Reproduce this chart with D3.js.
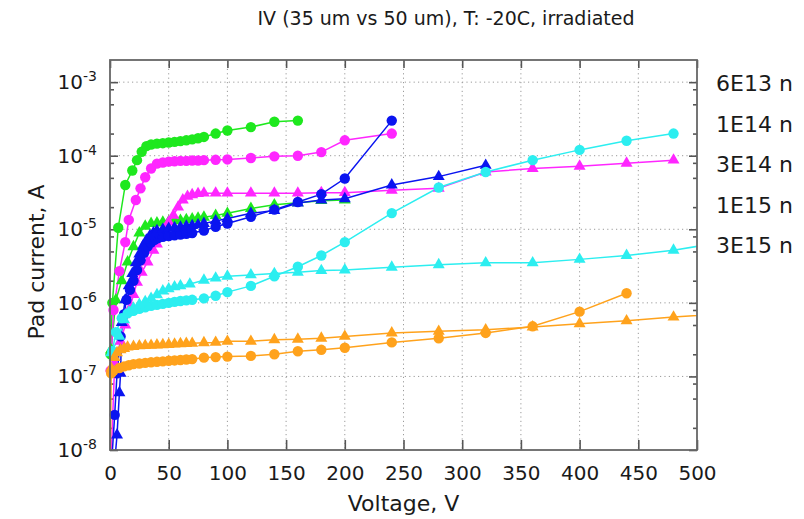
<!DOCTYPE html>
<html>
<head>
<meta charset="utf-8">
<script src="https://cdn.jsdelivr.net/npm/d3@7"></script>
<style>
  body { margin: 0; background: #fff; }
  svg { display: block; }
  text { font-family: "DejaVu Sans", sans-serif; fill: #1a1a1a; }
</style>
</head>
<body>
<svg id="chart" width="804" height="519"></svg>
<script>
// Axis ticks
const voltageTicks = [0, 50, 100, 150, 200, 250, 300, 350, 400, 450, 500];
const currentExponents = [-8, -7, -6, -5, -4, -3];
const fluenceLabels = ["6E13 n", "1E14 n", "3E14 n", "1E15 n", "3E15 n"];

// Measured IV curves: [voltage V, pad current A]; "35" = 35 um (circles), "50" = 50 um (triangles)
const fl6e13_35 = [[0.5,2.0e-7],[2,1.0e-6],[7,1.05e-5],[13,4.0e-5],[19,6.3e-5],[23,8.7e-5],[27,1.13e-4],[31,1.35e-4],[35,1.42e-4],[40,1.46e-4],[45,1.48e-4],[50,1.51e-4],[55,1.54e-4],[60,1.58e-4],[65,1.62e-4],[70,1.67e-4],[75,1.73e-4],[80,1.8e-4],[90,2.0e-4],[100,2.2e-4],[120,2.45e-4],[140,2.9e-4],[160,3.0e-4]];
const fl6e13_50 = [[1,2.3e-7],[5,1.1e-6],[10,2.0e-6],[15,3.6e-6],[20,5.8e-6],[25,8.9e-6],[30,1.1e-5],[35,1.2e-5],[40,1.22e-5],[45,1.25e-5],[50,1.27e-5],[55,1.3e-5],[60,1.32e-5],[65,1.35e-5],[70,1.38e-5],[75,1.42e-5],[80,1.46e-5],[90,1.54e-5],[100,1.65e-5],[120,1.92e-5],[140,2.15e-5],[160,2.3e-5],[180,2.45e-5],[200,2.5e-5]];
const fl1e14_35 = [[0.5,1.2e-7],[3,8e-7],[8,2.7e-6],[13,6.7e-6],[16,1.34e-5],[22,2.5e-5],[26,3.6e-5],[30,5.1e-5],[35,6.7e-5],[40,7.8e-5],[45,8.1e-5],[50,8.3e-5],[55,8.4e-5],[60,8.5e-5],[65,8.5e-5],[70,8.6e-5],[75,8.6e-5],[80,8.7e-5],[90,8.8e-5],[100,8.9e-5],[120,9.3e-5],[140,9.8e-5],[160,1.0e-4],[180,1.12e-4],[200,1.62e-4],[240,2.0e-4]];
const fl1e14_50 = [[0,3e-9],[4,1.5e-7],[9,3e-7],[13,5e-7],[17,8.5e-7],[20,1.3e-6],[23,1.9e-6],[27,2.6e-6],[32,3.6e-6],[37,5.2e-6],[40,6.3e-6],[43,7.9e-6],[46,1.0e-5],[50,1.25e-5],[54,1.55e-5],[58,2.0e-5],[62,2.5e-5],[66,2.8e-5],[70,2.95e-5],[75,3.05e-5],[80,3.1e-5],[90,3.1e-5],[100,3.1e-5],[120,3.1e-5],[140,3.1e-5],[160,3.1e-5],[180,3.15e-5],[200,3.15e-5],[240,3.4e-5],[280,3.6e-5],[320,6.0e-5],[360,6.7e-5],[400,7.2e-5],[440,7.9e-5],[480,8.7e-5]];
const fl3e14_35 = [[0,3e-9],[4,3e-8],[6,1.1e-7],[9,3.5e-7],[12,7e-7],[14,1.1e-6],[17,1.5e-6],[20,2.0e-6],[23,2.8e-6],[26,3.8e-6],[29,4.8e-6],[32,5.8e-6],[35,6.6e-6],[38,7.2e-6],[41,7.6e-6],[45,7.9e-6],[50,8.1e-6],[55,8.3e-6],[60,8.5e-6],[65,8.7e-6],[70,8.9e-6],[80,9.6e-6],[90,1.08e-5],[100,1.2e-5],[120,1.48e-5],[140,1.85e-5],[160,2.35e-5],[180,3.0e-5],[200,4.9e-5],[240,3.0e-4]];
const fl3e14_50 = [[2,3e-9],[6,1.6e-8],[8,6e-8],[9,1.1e-7],[10,5.4e-7],[13,1.1e-6],[16,1.7e-6],[19,2.5e-6],[22,3.5e-6],[25,4.6e-6],[28,5.9e-6],[31,7.1e-6],[34,8.2e-6],[37,9.0e-6],[40,9.6e-6],[45,1.0e-5],[50,1.03e-5],[55,1.05e-5],[60,1.07e-5],[65,1.1e-5],[70,1.12e-5],[75,1.15e-5],[80,1.2e-5],[90,1.3e-5],[100,1.4e-5],[120,1.65e-5],[140,1.8e-5],[160,2.27e-5],[180,2.5e-5],[200,2.6e-5],[240,4.0e-5],[280,5.2e-5],[320,7.4e-5]];
const fl1e15_35 = [[2,2.2e-7],[5,4e-7],[10,6.2e-7],[15,7.2e-7],[20,7.8e-7],[25,8.3e-7],[30,8.7e-7],[35,9.1e-7],[40,9.4e-7],[45,9.7e-7],[50,1.0e-6],[55,1.03e-6],[60,1.06e-6],[65,1.08e-6],[70,1.1e-6],[80,1.15e-6],[90,1.25e-6],[100,1.4e-6],[120,1.7e-6],[140,2.3e-6],[160,3.1e-6],[180,4.4e-6],[200,6.7e-6],[240,1.66e-5],[280,3.7e-5],[320,6.0e-5],[360,8.7e-5],[400,1.2e-4],[440,1.6e-4],[480,2.0e-4]];
const fl1e15_50 = [[1,2.1e-7],[8,3.5e-7],[12,5.9e-7],[16,7.5e-7],[20,8.5e-7],[25,9.5e-7],[30,1.04e-6],[35,1.15e-6],[40,1.29e-6],[45,1.45e-6],[50,1.55e-6],[55,1.65e-6],[60,1.7e-6],[68,1.8e-6],[80,2.03e-6],[90,2.17e-6],[100,2.3e-6],[120,2.4e-6],[140,2.5e-6],[160,2.6e-6],[180,2.75e-6],[200,2.8e-6],[240,3.05e-6],[280,3.3e-6],[320,3.5e-6],[360,3.5e-6],[400,3.9e-6],[440,4.4e-6],[480,5.2e-6],[520,6.6e-6]];
const fl3e15_35 = [[0,3e-9],[1,1.1e-7],[3,1.2e-7],[8,1.3e-7],[12,1.37e-7],[16,1.42e-7],[20,1.47e-7],[25,1.5e-7],[30,1.53e-7],[35,1.56e-7],[40,1.58e-7],[45,1.6e-7],[50,1.63e-7],[55,1.65e-7],[60,1.67e-7],[65,1.7e-7],[70,1.72e-7],[80,1.8e-7],[90,1.83e-7],[100,1.86e-7],[120,1.9e-7],[140,2.0e-7],[160,2.2e-7],[180,2.3e-7],[200,2.45e-7],[240,2.9e-7],[280,3.3e-7],[320,3.9e-7],[360,4.8e-7],[400,7.6e-7],[440,1.35e-6]];
const fl3e15_50 = [[1,1.3e-7],[4,1.8e-7],[6,2.1e-7],[9,2.3e-7],[12,2.4e-7],[15,2.5e-7],[20,2.55e-7],[25,2.6e-7],[30,2.62e-7],[35,2.65e-7],[40,2.68e-7],[45,2.7e-7],[50,2.72e-7],[55,2.75e-7],[60,2.78e-7],[65,2.8e-7],[70,2.82e-7],[80,2.87e-7],[90,2.9e-7],[100,3.0e-7],[120,3.0e-7],[140,3.15e-7],[160,3.2e-7],[180,3.3e-7],[200,3.5e-7],[240,3.9e-7],[280,4.1e-7],[320,4.3e-7],[360,4.7e-7],[400,5.2e-7],[440,5.7e-7],[480,6.4e-7],[520,7.1e-7]];

// Series table built from the arrays above
const seriesList = [
  { data: fl6e13_35, color: "#1ee81e", marker: "circle" },
  { data: fl6e13_50, color: "#1ee81e", marker: "triangle" },
  { data: fl1e14_35, color: "#ff26ff", marker: "circle" },
  { data: fl1e14_50, color: "#ff26ff", marker: "triangle" },
  { data: fl3e14_35, color: "#0a14f0", marker: "circle" },
  { data: fl3e14_50, color: "#0a14f0", marker: "triangle" },
  { data: fl1e15_35, color: "#2ceef0", marker: "circle" },
  { data: fl1e15_50, color: "#2ceef0", marker: "triangle" },
  { data: fl3e15_35, color: "#ffa21c", marker: "circle" },
  { data: fl3e15_50, color: "#ffa21c", marker: "triangle" }
];

const plot = { left: 110, right: 697, top: 60, bottom: 450 };

const x = d3.scaleLinear().domain([0, 500]).range([plot.left, plot.right]);
const y = d3.scaleLog().domain([1e-8, 2e-3]).range([plot.bottom, plot.top]);

const svg = d3.select("#chart");

svg.append("defs").append("clipPath").attr("id", "plotClip")
  .append("rect")
  .attr("x", plot.left).attr("y", plot.top)
  .attr("width", plot.right - plot.left).attr("height", plot.bottom - plot.top);

// Dotted grid
const grid = svg.append("g").attr("stroke", "#9a9a9a").attr("stroke-width", 1).attr("stroke-dasharray", "1.2,3.2");
grid.selectAll("line.gx").data(voltageTicks.filter(v => v > 0 && v < 500)).join("line")
  .attr("x1", d => x(d)).attr("x2", d => x(d))
  .attr("y1", plot.top).attr("y2", plot.bottom);
grid.selectAll("line.gy").data(currentExponents.filter(e => e > -8)).join("line")
  .attr("x1", plot.left).attr("x2", plot.right)
  .attr("y1", d => y(Math.pow(10, d))).attr("y2", d => y(Math.pow(10, d)));

// Axes (ticks drawn inward, mirrored on top and right)
const tickColor = "#555";
const xBottom = d3.axisBottom(x).tickValues(voltageTicks).tickSize(-10).tickFormat(d3.format("d")).tickPadding(16);
const xTop = d3.axisTop(x).tickValues(voltageTicks).tickSize(-8).tickFormat("");
const majorCurrent = currentExponents.map(e => Math.pow(10, e));
const minorCurrent = [];
currentExponents.forEach(e => [2, 5, 8].forEach(m => {
  const v = m * Math.pow(10, e);
  if (v < 2e-3) minorCurrent.push(v);
}));
const yLeft = d3.axisLeft(y).tickValues(majorCurrent).tickSize(-8).tickFormat("");
const yLeftMinor = d3.axisLeft(y).tickValues(minorCurrent).tickSize(-4).tickFormat("");
const yRight = d3.axisRight(y).tickValues(majorCurrent).tickSize(-8).tickFormat("");
const yRightMinor = d3.axisRight(y).tickValues(minorCurrent).tickSize(-4).tickFormat("");

function styleAxis(g) {
  g.select(".domain").remove();
  g.selectAll(".tick line").attr("stroke", tickColor).attr("stroke-width", 1.6);
}

const gxb = svg.append("g").attr("transform", `translate(0,${plot.bottom})`).call(xBottom).call(styleAxis);
gxb.selectAll(".tick text").attr("font-size", 20).attr("fill", "#1a1a1a").attr("font-family", "DejaVu Sans, sans-serif");
svg.append("g").attr("transform", `translate(0,${plot.top})`).call(xTop).call(styleAxis);
svg.append("g").attr("transform", `translate(${plot.left},0)`).call(yLeft).call(styleAxis);
svg.append("g").attr("transform", `translate(${plot.left},0)`).call(yLeftMinor).call(styleAxis);
svg.append("g").attr("transform", `translate(${plot.right},0)`).call(yRight).call(styleAxis);
svg.append("g").attr("transform", `translate(${plot.right},0)`).call(yRightMinor).call(styleAxis);

// Power-of-ten labels on the current axis
const yLab = svg.append("g");
currentExponents.forEach(e => {
  const t = yLab.append("text")
    .attr("x", plot.left - 13)
    .attr("y", y(Math.pow(10, e)) + 7)
    .attr("text-anchor", "end")
    .attr("font-size", 20);
  t.append("tspan").text("10");
  t.append("tspan").attr("font-size", 14).attr("dy", -8).text(String(e));
});

// Curves
const line = d3.line().x(d => x(d[0])).y(d => y(d[1]));
const curves = svg.append("g").attr("clip-path", "url(#plotClip)");
const markers = svg.append("g");
const tri = d3.symbol().type(d3.symbolTriangle).size(62);
const inRange = d => d[0] >= 0 && d[0] <= 500 && d[1] >= 1e-8 && d[1] <= 2e-3;

seriesList.forEach(s => {
  curves.append("path")
    .datum(s.data)
    .attr("fill", "none")
    .attr("stroke", s.color)
    .attr("stroke-width", 1.5)
    .attr("d", line);
  const pts = s.data.filter(inRange);
  if (s.marker === "circle") {
    markers.append("g").selectAll("circle").data(pts).join("circle")
      .attr("cx", d => x(d[0])).attr("cy", d => y(d[1]))
      .attr("r", 5.2).attr("fill", s.color);
  } else {
    markers.append("g").selectAll("path").data(pts).join("path")
      .attr("transform", d => `translate(${x(d[0])},${y(d[1])})`)
      .attr("d", tri).attr("fill", s.color);
  }
});

// Frame
svg.append("rect")
  .attr("x", plot.left).attr("y", plot.top)
  .attr("width", plot.right - plot.left).attr("height", plot.bottom - plot.top)
  .attr("fill", "none").attr("stroke", "#666").attr("stroke-width", 1.8);

// Fluence key
svg.append("g").selectAll("text").data(fluenceLabels).join("text")
  .attr("x", 716)
  .attr("y", (d, i) => 91 + i * 40.5)
  .attr("font-size", 22)
  .text(d => d);

// Titles
svg.append("text")
  .attr("x", 446)
  .attr("y", 25)
  .attr("text-anchor", "middle")
  .attr("font-size", 19)
  .text("IV (35 um vs 50 um), T: -20C, irradiated");

svg.append("text")
  .attr("x", (plot.left + plot.right) / 2)
  .attr("y", 511)
  .attr("text-anchor", "middle")
  .attr("font-size", 22)
  .text("Voltage, V");

svg.append("text")
  .attr("transform", `translate(44,262) rotate(-90)`)
  .attr("text-anchor", "middle")
  .attr("font-size", 22)
  .text("Pad current, A");
</script>
</body>
</html>
